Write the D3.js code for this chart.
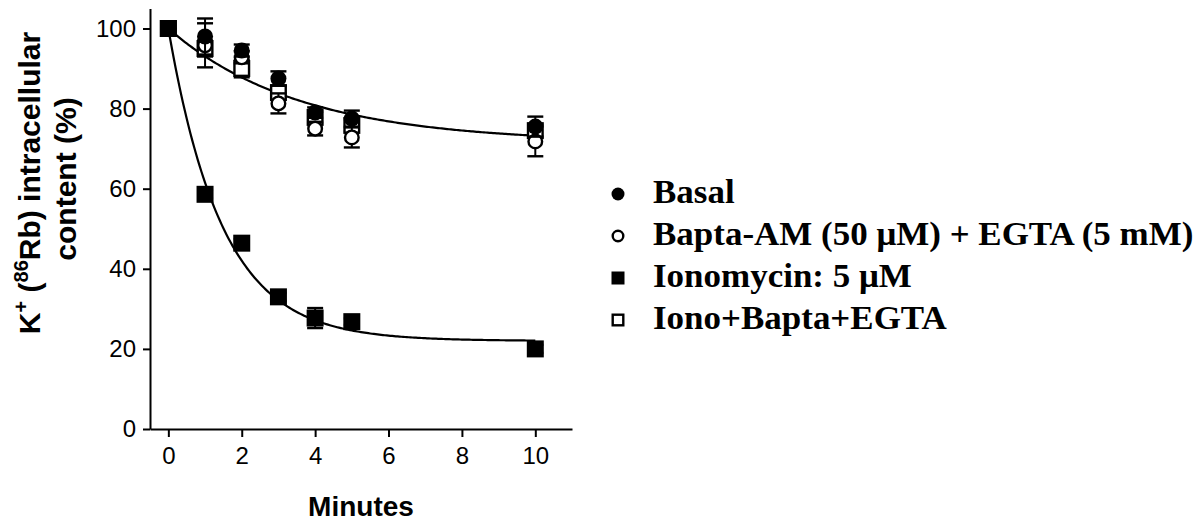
<!DOCTYPE html>
<html><head><meta charset="utf-8">
<script src="https://cdn.jsdelivr.net/npm/d3@7"></script>
<style>body{margin:0;background:#fff}svg{display:block}</style>
</head><body>
<svg id="c" width="1204" height="531"></svg>
<script>
// ---- data ----
const times = [0, 1, 2, 3, 4, 5, 10];
const basal = [100, 98, 94.5, 87.5, 79, 77.5, 75.5];
const basalErr = [0, 4.5, 1.5, 1.8, 1.3, 2, 2.5];
const bapta = [100, 95.8, 92.8, 81.3, 75, 72.8, 71.8];
const baptaErr = [0, 5.5, 1.5, 2.5, 1.7, 2.5, 3.7];
const iono = [100, 58.6, 46.4, 33, 27.7, 26.8, 20];
const ionoErr = [0, 1, 1, 1, 2.5, 0.8, 1];
const ionoBapta = [100, 95, 90, 84, 77.8, 75.8, 74.5];
const ionoBaptaErr = [0, 2, 2.2, 1.5, 1.5, 1.5, 1.5];
const xTicks = [0, 2, 4, 6, 8, 10];
const yTicks = [0, 20, 40, 60, 80, 100];
const legendLabels = ["Basal", "Bapta-AM (50 μM) + EGTA (5 mM)", "Ionomycin: 5 μM", "Iono+Bapta+EGTA"];
// one-phase exponential decay fits (plateau, rate per minute)
const fitUpper = {plateau: 71.5, k: 0.28};
const fitLower = {plateau: 22, k: 0.68};

const svg = d3.select("#c");
const x = d3.scaleLinear().domain([-0.5, 11]).range([150, 572]);
const y = d3.scaleLinear().domain([0, 100]).range([429, 28.5]);
const yTop = 105;

// axes
const gx = svg.append("g").attr("transform", `translate(0,${y(0)})`)
  .call(d3.axisBottom(x).tickValues(xTicks).tickSize(8).tickPadding(10).tickSizeOuter(0));
const gy = svg.append("g").attr("transform", `translate(${x(-0.5)},0)`)
  .call(d3.axisLeft(d3.scaleLinear().domain([0, yTop]).range([y(0), y(yTop)]))
    .tickValues(yTicks).tickSize(7).tickPadding(7).tickSizeOuter(0));
[gx, gy].forEach(g => {
  g.select(".domain").attr("stroke", "#000").attr("stroke-width", 2);
  g.selectAll(".tick line").attr("stroke", "#000").attr("stroke-width", 2);
  g.selectAll(".tick text").attr("fill", "#000")
    .style("font-family", "Liberation Sans, Arial, sans-serif").style("font-size", "24px");
});

// axis titles
svg.append("text").attr("x", (x.range()[0] + x.range()[1]) / 2).attr("y", 516).attr("text-anchor", "middle")
  .style("font-family", "Liberation Sans, Arial, sans-serif").style("font-size", "28px").style("font-weight", "bold")
  .text("Minutes");
const yt = svg.append("g").style("font-family", "Liberation Sans, Arial, sans-serif")
  .style("font-weight", "bold").style("font-size", "30px");
const t1 = yt.append("text").attr("transform", "translate(40,183) rotate(-90)").attr("text-anchor", "middle");
t1.append("tspan").text("K");
t1.append("tspan").attr("dy", -12).style("font-size", "20px").text("+");
t1.append("tspan").attr("dy", 12).text(" (");
t1.append("tspan").attr("dy", -12).style("font-size", "20px").text("86");
t1.append("tspan").attr("dy", 12).text("Rb) intracellular");
yt.append("text").attr("transform", "translate(76,179) rotate(-90)").attr("text-anchor", "middle").text("content (%)");

// fitted curves
const curveTs = d3.range(0, 10.001, 0.05);
const line = d3.line().x(d => x(d[0])).y(d => y(d[1]));
[fitUpper, fitLower].forEach(f => {
  svg.append("path")
    .datum(curveTs.map(t => [t, f.plateau + (100 - f.plateau) * Math.exp(-f.k * t)]))
    .attr("d", line).attr("fill", "none").attr("stroke", "#000").attr("stroke-width", 2.2);
});

// series (drawn back to front)
const series = [
  {vals: ionoBapta, err: ionoBaptaErr, shape: "square", fill: "#fff"},
  {vals: iono, err: ionoErr, shape: "square", fill: "#000"},
  {vals: bapta, err: baptaErr, shape: "circle", fill: "#fff"},
  {vals: basal, err: basalErr, shape: "circle", fill: "#000"}
];
function drawMarker(g, shape, fill, cx, cy, size) {
  if (shape === "circle") {
    g.append("circle").attr("cx", cx).attr("cy", cy).attr("r", size / 2 - (fill === "#fff" ? 1.2 : 0))
      .attr("fill", fill).attr("stroke", "#000").attr("stroke-width", fill === "#fff" ? 2.4 : 0);
  } else {
    const s = size - (fill === "#fff" ? 2.4 : 0);
    g.append("rect").attr("x", cx - s / 2).attr("y", cy - s / 2).attr("width", s).attr("height", s)
      .attr("fill", fill).attr("stroke", "#000").attr("stroke-width", fill === "#fff" ? 2.4 : 0);
  }
}
series.forEach(s => {
  const g = svg.append("g");
  times.forEach((t, i) => {
    const e = s.err[i];
    if (e > 0) {
      const cx = x(t);
      g.append("line").attr("x1", cx).attr("x2", cx).attr("y1", y(s.vals[i] - e)).attr("y2", y(s.vals[i] + e))
        .attr("stroke", "#000").attr("stroke-width", 2);
      [s.vals[i] - e, s.vals[i] + e].forEach(v => g.append("line")
        .attr("x1", cx - 8).attr("x2", cx + 8).attr("y1", y(v)).attr("y2", y(v))
        .attr("stroke", "#000").attr("stroke-width", 2.4));
    }
  });
  times.forEach((t, i) => drawMarker(g, s.shape, s.fill, x(t), y(s.vals[i]), s.shape === "circle" ? 16 : 17));
});

// legend
const legShapes = [["circle", "#000"], ["circle", "#fff"], ["square", "#000"], ["square", "#fff"]];
const leg = svg.append("g");
legendLabels.forEach((lab, i) => {
  const by = 203 + i * 42;
  drawMarker(leg, legShapes[i][0], legShapes[i][1], 618, by - 9, 13);
  leg.append("text").attr("transform", `translate(653,${by}) scale(1.06,1)`)
    .style("font-family", "Liberation Serif, Times New Roman, serif").style("font-weight", "bold")
    .style("font-size", "33px").text(lab);
});
</script>
</body></html>
